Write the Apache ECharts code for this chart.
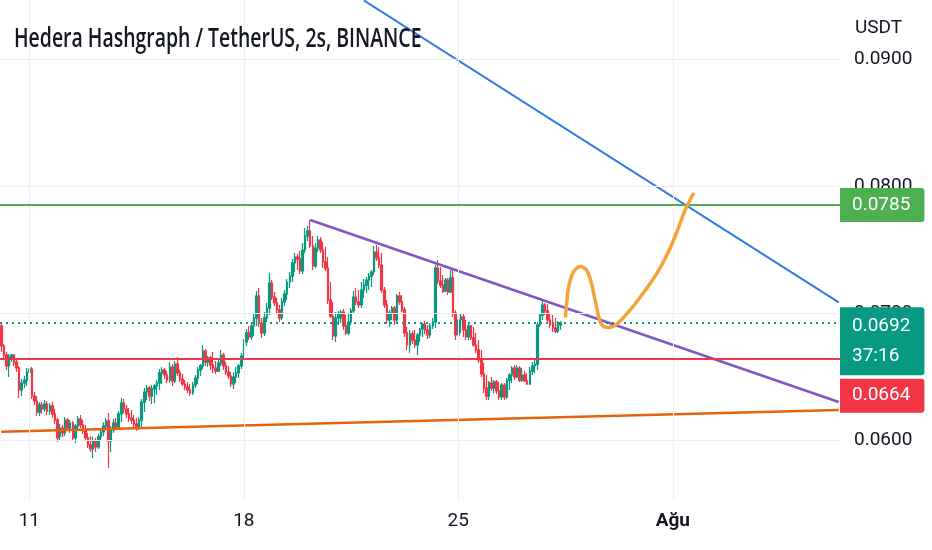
<!DOCTYPE html>
<html>
<head>
<meta charset="utf-8">
<script src="https://cdn.jsdelivr.net/npm/echarts@6/dist/echarts.min.js"></script>
<style>html,body{margin:0;padding:0;background:#fff;}#chart{width:932px;height:550px;}</style>
</head>
<body>
<div id="chart"></div>
<script>
// ---- data ----
const titleText = 'Hedera Hashgraph / TetherUS, 2s, BINANCE';
const quoteUnit = 'USDT';
const slotCount = 329;               // 2-hour slots shown on the time axis
const startTimeUTC = Date.UTC(2023, 6, 10, 2); // first slot: 10 Jul 02:00
const tickDays = ['2023-07-11 00:00', '2023-07-18 00:00', '2023-07-25 00:00', '2023-08-01 00:00'];
const tickLabels = ['11', '18', '25', 'Ağu'];
const yTicks = [0.06, 0.07, 0.08, 0.09];
const yMin = 0.055276, yMax = 0.094646;

// [open, close, low, high]
const candleData = [
[0.06898,0.06740,0.06693,0.06921],[0.06740,0.06669,0.06646,0.06756],[0.06669,0.06583,0.06551,0.06693],[0.06583,0.06654,0.06496,0.06677],
[0.06646,0.06669,0.06614,0.06677],[0.06669,0.06614,0.06583,0.06677],[0.06614,0.06567,0.06535,0.06638],[0.06567,0.06394,0.06331,0.06583],
[0.06394,0.06449,0.06346,0.06480],[0.06449,0.06472,0.06409,0.06504],[0.06472,0.06535,0.06425,0.06567],[0.06535,0.06559,0.06488,0.06583],
[0.06559,0.06346,0.06323,0.06575],[0.06346,0.06307,0.06276,0.06378],[0.06307,0.06220,0.06189,0.06346],[0.06220,0.06276,0.06189,0.06299],
[0.06276,0.06244,0.06205,0.06299],[0.06244,0.06283,0.06220,0.06315],[0.06283,0.06228,0.06197,0.06307],[0.06228,0.06268,0.06197,0.06291],
[0.06268,0.06205,0.06173,0.06299],[0.06205,0.06157,0.06126,0.06244],[0.06157,0.06016,0.05984,0.06173],[0.06031,0.06094,0.06000,0.06126],
[0.06094,0.06055,0.06024,0.06118],[0.06055,0.06157,0.06031,0.06181],[0.06157,0.06094,0.06071,0.06173],[0.06094,0.06134,0.06055,0.06157],
[0.06134,0.06016,0.05992,0.06150],[0.06016,0.06110,0.05976,0.06126],[0.06110,0.06165,0.06087,0.06189],[0.06165,0.06118,0.06094,0.06197],
[0.06118,0.06071,0.06047,0.06157],[0.06071,0.06016,0.05992,0.06118],[0.06016,0.05961,0.05937,0.06055],[0.05961,0.05929,0.05906,0.06031],
[0.05929,0.05992,0.05858,0.06024],[0.05992,0.05945,0.05906,0.06016],[0.05945,0.06024,0.05929,0.06047],[0.06024,0.06063,0.06000,0.06087],
[0.06063,0.06110,0.06031,0.06142],[0.06110,0.06150,0.06079,0.06173],[0.06150,0.05992,0.05780,0.06213],[0.05992,0.06079,0.05906,0.06110],
[0.06079,0.06134,0.06055,0.06165],[0.06134,0.06102,0.06079,0.06173],[0.06102,0.06205,0.06079,0.06228],[0.06205,0.06291,0.06142,0.06331],
[0.06291,0.06244,0.06213,0.06323],[0.06244,0.06205,0.06173,0.06276],[0.06205,0.06173,0.06142,0.06252],[0.06173,0.06157,0.06126,0.06236],
[0.06157,0.06126,0.06102,0.06197],[0.06126,0.06102,0.06071,0.06173],[0.06102,0.06157,0.06079,0.06181],[0.06157,0.06299,0.06102,0.06323],
[0.06299,0.06378,0.06220,0.06409],[0.06378,0.06409,0.06315,0.06433],[0.06409,0.06346,0.06307,0.06425],[0.06346,0.06402,0.06283,0.06433],
[0.06402,0.06425,0.06291,0.06441],[0.06425,0.06449,0.06354,0.06472],[0.06449,0.06528,0.06394,0.06559],[0.06528,0.06551,0.06441,0.06575],
[0.06551,0.06512,0.06480,0.06567],[0.06512,0.06472,0.06449,0.06543],[0.06472,0.06575,0.06449,0.06614],[0.06575,0.06465,0.06425,0.06598],
[0.06465,0.06598,0.06449,0.06622],[0.06598,0.06528,0.06504,0.06654],[0.06528,0.06480,0.06457,0.06551],[0.06480,0.06441,0.06425,0.06520],
[0.06441,0.06417,0.06394,0.06472],[0.06417,0.06394,0.06370,0.06457],[0.06394,0.06370,0.06346,0.06441],[0.06370,0.06433,0.06354,0.06457],
[0.06433,0.06488,0.06409,0.06512],[0.06488,0.06551,0.06441,0.06575],[0.06551,0.06583,0.06504,0.06598],[0.06583,0.06701,0.06559,0.06748],
[0.06701,0.06614,0.06583,0.06717],[0.06614,0.06646,0.06575,0.06661],[0.06646,0.06591,0.06551,0.06661],[0.06591,0.06567,0.06528,0.06693],
[0.06567,0.06543,0.06520,0.06622],[0.06543,0.06606,0.06535,0.06638],[0.06606,0.06669,0.06583,0.06709],[0.06669,0.06583,0.06551,0.06685],
[0.06583,0.06535,0.06512,0.06614],[0.06535,0.06504,0.06480,0.06583],[0.06504,0.06441,0.06417,0.06535],[0.06441,0.06496,0.06402,0.06535],
[0.06496,0.06528,0.06449,0.06575],[0.06528,0.06583,0.06488,0.06598],[0.06583,0.06661,0.06559,0.06685],[0.06661,0.06772,0.06630,0.06795],
[0.06772,0.06843,0.06740,0.06874],[0.06843,0.06811,0.06787,0.06898],[0.06811,0.06898,0.06787,0.06929],[0.06898,0.06961,0.06819,0.06992],
[0.06961,0.07134,0.06898,0.07173],[0.07134,0.06921,0.06890,0.07197],[0.06921,0.06843,0.06803,0.06961],[0.06843,0.06961,0.06819,0.07008],
[0.06961,0.07039,0.06929,0.07079],[0.07039,0.07236,0.06984,0.07315],[0.07236,0.07126,0.07102,0.07260],[0.07126,0.07079,0.07055,0.07165],
[0.07079,0.07024,0.06992,0.07118],[0.07024,0.06961,0.06929,0.07063],[0.06961,0.07087,0.06945,0.07118],[0.07087,0.07150,0.07055,0.07181],
[0.07150,0.07244,0.07102,0.07268],[0.07244,0.07291,0.07197,0.07323],[0.07291,0.07394,0.07244,0.07425],[0.07394,0.07441,0.07323,0.07472],
[0.07441,0.07425,0.07339,0.07465],[0.07425,0.07331,0.07307,0.07488],[0.07331,0.07496,0.07307,0.07551],[0.07496,0.07606,0.07472,0.07669],
[0.07606,0.07646,0.07567,0.07685],[0.07646,0.07528,0.07512,0.07732],[0.07528,0.07370,0.07339,0.07606],[0.07370,0.07512,0.07354,0.07551],
[0.07512,0.07575,0.07480,0.07606],[0.07575,0.07496,0.07472,0.07598],[0.07496,0.07402,0.07354,0.07559],[0.07402,0.07354,0.07331,0.07520],
[0.07354,0.07102,0.07071,0.07441],[0.07102,0.06976,0.06961,0.07244],[0.06976,0.06819,0.06787,0.07087],[0.06819,0.06961,0.06772,0.07008],
[0.06961,0.07000,0.06906,0.07016],[0.06961,0.07008,0.06921,0.07024],[0.07008,0.06898,0.06866,0.07031],[0.06898,0.06843,0.06827,0.06984],
[0.06843,0.06929,0.06827,0.07000],[0.06929,0.07016,0.06906,0.07039],[0.07016,0.07126,0.07000,0.07173],[0.07126,0.07087,0.07063,0.07197],
[0.07087,0.07063,0.07039,0.07181],[0.07063,0.07181,0.07039,0.07244],[0.07181,0.07220,0.07118,0.07268],[0.07220,0.07260,0.07157,0.07283],
[0.07260,0.07291,0.07181,0.07315],[0.07291,0.07323,0.07205,0.07339],[0.07323,0.07480,0.07299,0.07528],[0.07480,0.07433,0.07409,0.07535],
[0.07433,0.07378,0.07354,0.07520],[0.07378,0.07181,0.07157,0.07472],[0.07181,0.07063,0.07039,0.07205],[0.07063,0.06945,0.06913,0.07102],
[0.06945,0.07000,0.06890,0.07024],[0.07000,0.07039,0.06945,0.07055],[0.07039,0.06945,0.06906,0.07055],[0.06945,0.07134,0.06921,0.07150],
[0.07134,0.07087,0.07063,0.07165],[0.07087,0.07024,0.07008,0.07142],[0.07024,0.06843,0.06811,0.07047],[0.06843,0.06748,0.06709,0.06890],
[0.06748,0.06835,0.06685,0.06866],[0.06835,0.06787,0.06756,0.06858],[0.06787,0.06748,0.06724,0.06866],[0.06748,0.06827,0.06669,0.06843],
[0.06827,0.06874,0.06772,0.06882],[0.06874,0.06913,0.06811,0.06921],[0.06913,0.06866,0.06835,0.06937],[0.06866,0.06827,0.06795,0.06906],
[0.06827,0.06898,0.06803,0.06921],[0.06898,0.06929,0.06874,0.06961],[0.06929,0.07354,0.06882,0.07378],[0.07354,0.07252,0.07228,0.07417],
[0.07252,0.07220,0.07197,0.07362],[0.07220,0.07173,0.07157,0.07299],[0.07173,0.07260,0.07165,0.07276],[0.07260,0.07165,0.07142,0.07276],
[0.07165,0.07276,0.07157,0.07339],[0.07276,0.07000,0.06969,0.07354],[0.07000,0.06827,0.06787,0.07024],[0.06827,0.06945,0.06787,0.06984],
[0.06945,0.06969,0.06843,0.07000],[0.06969,0.06866,0.06811,0.07000],[0.06866,0.06811,0.06787,0.06945],[0.06811,0.06898,0.06787,0.06921],
[0.06898,0.06803,0.06787,0.06906],[0.06803,0.06748,0.06732,0.06890],[0.06748,0.06709,0.06685,0.06843],[0.06709,0.06630,0.06606,0.06787],
[0.06630,0.06520,0.06496,0.06709],[0.06520,0.06409,0.06370,0.06606],[0.06409,0.06346,0.06315,0.06512],[0.06346,0.06449,0.06315,0.06465],
[0.06449,0.06409,0.06386,0.06496],[0.06409,0.06457,0.06370,0.06472],[0.06457,0.06386,0.06362,0.06472],[0.06386,0.06339,0.06315,0.06457],
[0.06339,0.06433,0.06315,0.06449],[0.06433,0.06339,0.06315,0.06449],[0.06339,0.06472,0.06323,0.06488],[0.06472,0.06512,0.06394,0.06528],
[0.06512,0.06567,0.06449,0.06583],[0.06567,0.06496,0.06472,0.06591],[0.06496,0.06567,0.06488,0.06591],[0.06567,0.06472,0.06457,0.06583],
[0.06472,0.06512,0.06457,0.06567],[0.06512,0.06465,0.06457,0.06543],[0.06465,0.06441,0.06433,0.06528],[0.06441,0.06543,0.06433,0.06575],
[0.06543,0.06583,0.06512,0.06614],[0.06583,0.06598,0.06528,0.06630],[0.06598,0.06906,0.06551,0.06929],[0.06906,0.06984,0.06890,0.07000],
[0.06984,0.07063,0.06945,0.07094],[0.07063,0.07016,0.06984,0.07079],[0.07016,0.06945,0.06921,0.07071],[0.06945,0.06906,0.06882,0.07000],
[0.06906,0.06882,0.06850,0.06984],[0.06882,0.06858,0.06843,0.06961],[0.06858,0.06906,0.06843,0.06937],[0.06906,0.06920,0.06866,0.06937]
];

// horizontal levels
const resistanceLevel = 0.0785;
const supportLevel = 0.0664;
const lastPrice = 0.0692;
const countdown = '37:16';

// drawn lines, [slot index, price]
const purpleLine = [[121, 0.07732], [328, 0.06299]];
const blueLine = [[142, 0.09461], [328, 0.07083]];
const orangeLine = [[0, 0.06065], [328, 0.06237]];
const sketchCurve = [
[221,0.06976],[222,0.07181],[223,0.07268],[224,0.07319],[225,0.07346],[226,0.07362],[227,0.07366],[228,0.07358],
[229,0.07343],[230,0.07307],[231,0.07244],[232,0.07157],[233,0.07063],[234,0.06969],[235,0.06913],[236,0.06894],
[237,0.06887],[238,0.06886],[239,0.06890],[240,0.06898],[241,0.06912],[243,0.06949],[246,0.07016],[250,0.07118],
[254,0.07228],[258,0.07354],[262,0.07512],[265,0.07661],[268,0.07819],[270,0.07898],[271,0.07937]
];

// ---- build ----
const categories = [];
for (let i = 0; i < slotCount; i++) {
  const d = new Date(startTimeUTC + i * 7200000);
  categories.push(d.toISOString().slice(0, 13).replace('T', ' ') + ':00');
}

const UP = '#089981', DOWN = '#f23645';
const FONT = 'Roboto';
const FS = 19;
const tagLabel = (bg, text, extra) => Object.assign({
  show: true, position: 'end', distance: 0, formatter: text,
  backgroundColor: bg, color: '#ffffff', fontFamily: FONT, fontSize: FS, lineHeight: 22,
  padding: [6, 14, 6, 12], borderRadius: [0, 3, 3, 0]
}, extra || {});

const chart = echarts.init(document.getElementById('chart'), null, {renderer: 'canvas'});
chart.setOption({
  animation: false,
  backgroundColor: '#ffffff',
  title: [
    {text: quoteUnit, left: 855, top: 19, padding: 0,
     textStyle: {fontFamily: FONT, fontWeight: 'normal', fontSize: FS, color: '#131722'}}
  ],
  graphic: [
    {type: 'text', x: 14, y: 39, scaleX: 0.72, silent: true, z: 100,
     style: {text: titleText, font: '600 27px "Open Sans"', fill: '#131722', verticalAlign: 'middle', align: 'left'}}
  ],
  grid: {left: 0, right: 92, top: 0, bottom: 50},
  xAxis: {
    type: 'category', data: categories, boundaryGap: true,
    axisLine: {show: false}, axisTick: {show: false}, splitLine: {show: false},
    axisLabel: {
      interval: (i, v) => tickDays.indexOf(v) >= 0,
      formatter: v => {
        const k = tickDays.indexOf(v);
        const t = tickLabels[k];
        return k === tickDays.length - 1 ? '{b|' + t + '}' : t;
      },
      color: '#131722', fontFamily: FONT, fontSize: FS, margin: 12,
      rich: {b: {fontFamily: FONT, fontSize: FS, fontWeight: 'bold', color: '#131722'}}
    }
  },
  yAxis: {
    type: 'value', position: 'right', min: yMin, max: yMax, scale: true,
    axisLine: {show: false}, axisTick: {show: false}, splitLine: {show: false},
    axisLabel: {customValues: yTicks, formatter: v => v.toFixed(4), color: '#131722',
      fontFamily: FONT, fontSize: FS, margin: 14}
  },
  series: [
    {
      name: 'grid', type: 'line', data: [], z: 0, silent: true,
      markLine: {
        silent: true, symbol: 'none', animation: false, precision: 6, label: {show: false},
        lineStyle: {color: '#eceef3', width: 1, type: 'solid'},
        data: yTicks.map(v => ({yAxis: v})).concat(tickDays.map(d => ({xAxis: d})))
      }
    },
    {
      name: 'orange', type: 'line', data: orangeLine, symbol: 'none', silent: true, z: 3,
      lineStyle: {color: '#e8610b', width: 2.5}
    },
    {
      name: 'HBARUSDT', type: 'candlestick', data: candleData, barWidth: 2, z: 2,
      itemStyle: {color: UP, color0: DOWN, borderColor: UP, borderColor0: DOWN, borderWidth: 1.2},
      markLine: {
        silent: true, symbol: 'none', animation: false, precision: 6,
        data: [
          {yAxis: resistanceLevel, lineStyle: {color: '#4caf50', width: 2, type: 'solid'},
           label: tagLabel('#4caf50', resistanceLevel.toFixed(4))},
          {yAxis: supportLevel, lineStyle: {color: DOWN, width: 2, type: 'solid'},
           label: tagLabel(DOWN, supportLevel.toFixed(4), {offset: [0, 37]})},
          {yAxis: lastPrice, lineStyle: {color: UP, width: 2, type: [2, 4]},
           label: tagLabel(UP, lastPrice.toFixed(4) + '\n' + countdown, {offset: [0, 18], lineHeight: 30, padding: [4, 14, 4, 12]})}
        ]
      }
    },
    {
      name: 'purple', type: 'line', data: purpleLine, symbol: 'none', silent: true, z: 4,
      lineStyle: {color: '#7e57c2', width: 2.5}
    },
    {
      name: 'blue', type: 'line', data: blueLine, symbol: 'none', silent: true, z: 4,
      lineStyle: {color: '#2f7ae5', width: 2}
    },
    {
      name: 'sketch', type: 'line', data: sketchCurve, symbol: 'none', silent: true, z: 5, smooth: 0.3,
      lineStyle: {color: '#f7a13b', width: 3.5, cap: 'round', join: 'round'}
    }
  ]
});
</script>
</body>
</html>
